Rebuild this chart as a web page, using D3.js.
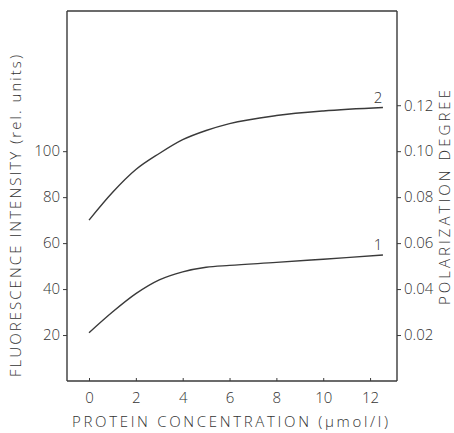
<!DOCTYPE html>
<html><head><meta charset="utf-8">
<script src="https://cdn.jsdelivr.net/npm/d3@7"></script>
<style>
body{margin:0;background:#fff;}
svg text{font-family:"Open Sans",Lato,sans-serif;font-weight:300;fill:#333;}
</style></head>
<body><svg id="c" width="454" height="433"></svg>
<script>
const xTicks = [0, 2, 4, 6, 8, 10, 12];
const leftTicks = [20, 40, 60, 80, 100];
const rightTicks = [0.02, 0.04, 0.06, 0.08, 0.10, 0.12];
const concentration = [0, 1, 2, 3, 4, 5, 6, 8, 10, 12.55];
const fluorescence = [21, 30, 38, 44, 47.5, 49.5, 50.3, 51.6, 53, 54.8];
const polarization = [0.070, 0.082, 0.092, 0.099, 0.105, 0.109, 0.112, 0.1155, 0.1175, 0.119];

const svg = d3.select("#c");
const L = 67, R = 397, T = 11, B = 381;
const x = d3.scaleLinear().domain([-0.94, 13.15]).range([L, R]);
const yL = d3.scaleLinear().domain([0, 161]).range([B, T]);
const yR = d3.scaleLinear().domain([0, 0.161]).range([B, T]);
const col = "#3a3a3a";

const gx = svg.append("g").attr("transform", `translate(0,${B})`)
  .call(d3.axisBottom(x).tickValues(xTicks).tickSizeInner(-3).tickSizeOuter(0).tickPadding(11).tickFormat(d3.format("d")));
const gl = svg.append("g").attr("transform", `translate(${L},0)`)
  .call(d3.axisLeft(yL).tickValues(leftTicks).tickSizeInner(4).tickSizeOuter(0).tickPadding(3));
const gr = svg.append("g").attr("transform", `translate(${R},0)`)
  .call(d3.axisRight(yR).tickValues(rightTicks).tickSizeInner(4).tickSizeOuter(0).tickPadding(3)
    .tickFormat(d => d3.format(".2f")(d)));
[gx, gl, gr].forEach(g => {
  g.select(".domain").attr("stroke", col).attr("stroke-width", 1.4);
  g.selectAll(".tick line").attr("stroke", col).attr("stroke-width", 1);
  g.selectAll(".tick text").style("font-size", "15px").attr("fill", "#333");
});
gx.select(".domain").attr("d", `M${L},0H${R}`);
gl.select(".domain").attr("d", `M0,${B}V${T}`);
gr.select(".domain").attr("d", `M0,${B}V${T}`);
svg.append("line").attr("x1", L).attr("x2", R).attr("y1", T).attr("y2", T)
  .attr("stroke", col).attr("stroke-width", 1.4);

const line1 = d3.line().x((d, i) => x(concentration[i])).y(d => yL(d)).curve(d3.curveMonotoneX);
const line2 = d3.line().x((d, i) => x(concentration[i])).y(d => yR(d)).curve(d3.curveMonotoneX);
svg.append("path").attr("d", line1(fluorescence)).attr("fill", "none").attr("stroke", col).attr("stroke-width", 1.4);
svg.append("path").attr("d", line2(polarization)).attr("fill", "none").attr("stroke", col).attr("stroke-width", 1.4);

const n = concentration.length - 1;
svg.append("text").attr("x", x(concentration[n]) - 5).attr("y", yL(fluorescence[n]) - 5)
  .attr("text-anchor", "middle").style("font-size", "15px").text("1");
svg.append("text").attr("x", x(concentration[n]) - 5).attr("y", yR(polarization[n]) - 5)
  .attr("text-anchor", "middle").style("font-size", "15px").text("2");

svg.append("text").attr("x", 72).attr("y", 427)
  .attr("textLength", 316).attr("lengthAdjust", "spacing")
  .style("font-size", "15px").text("PROTEIN CONCENTRATION (µmol/l)");
svg.append("text").attr("transform", "translate(21,377) rotate(-90)")
  .attr("textLength", 322).attr("lengthAdjust", "spacing")
  .style("font-size", "15px").text("FLUORESCENCE INTENSITY (rel. units)");
svg.append("text").attr("transform", "translate(450,305) rotate(-90)")
  .attr("textLength", 215).attr("lengthAdjust", "spacing")
  .style("font-size", "15px").text("POLARIZATION DEGREE");
</script></body></html>
